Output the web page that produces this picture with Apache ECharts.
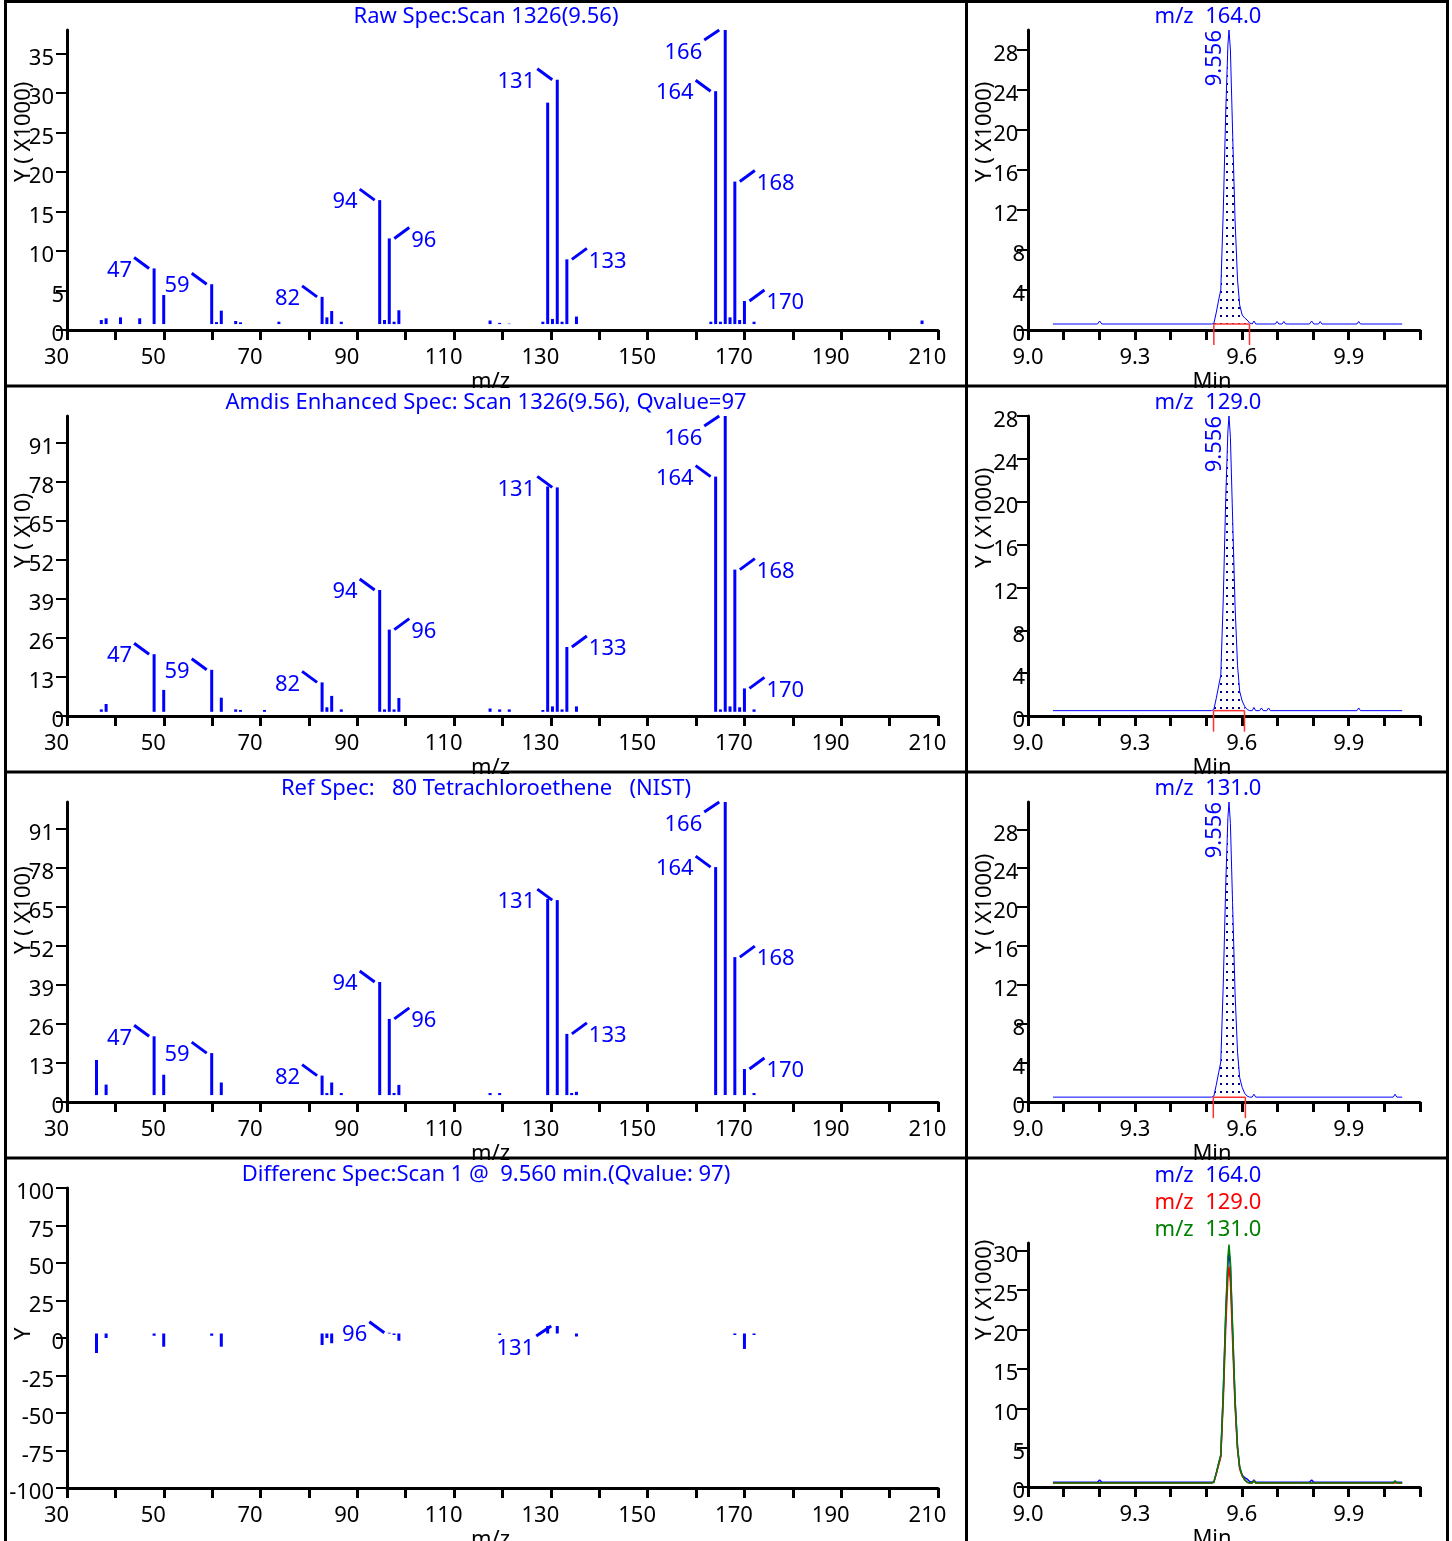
<!DOCTYPE html>
<html><head><meta charset="utf-8">
<script src="https://cdn.jsdelivr.net/npm/echarts@6/dist/echarts.min.js"></script>
<style>html,body{margin:0;padding:0;background:#fff}#c{width:1452px;height:1541px}</style>
</head><body><div id="c"></div><script>
// ---------------- DATA ----------------
const mzTickLabels = [30,50,70,90,110,130,150,170,190,210];
const rtTickLabels = [9.0,9.3,9.6,9.9];
const yTicks1 = [0,5,10,15,20,25,30,35];
const yTicks23 = [0,13,26,39,52,65,78,91];
const yTicks4 = [-100,-75,-50,-25,0,25,50,75,100];
const yTicksR = [0,4,8,12,16,20,24,28];
const yTicksR4 = [0,5,10,15,20,25,30];

const titles = ['Raw Spec:Scan 1326(9.56)',
  'Amdis Enhanced Spec: Scan 1326(9.56), Qvalue=97',
  'Ref Spec:   80 Tetrachloroethene   (NIST)',
  'Differenc Spec:Scan 1 @  9.560 min.(Qvalue: 97)'];
const yNamesL = ['Y ( X1000)','Y ( X10)','Y ( X100)','Y'];
const yNamesR = ['Y ( X1000)','Y ( X1000)','Y ( X1000)','Y ( X1000)'];
const eicNames = ['m/z  164.0','m/z  129.0','m/z  131.0'];
const peakRT = '9.556';

// Raw spectrum (x1000)
const mzRaw  = [36,37,40,44,47,49,59,60,61,64,65,73,82,83,84,86,94,95,96,97,98,117,119,121,128,129,130,131,132,133,135,163,164,165,166,167,168,169,170,172,207];
const valRaw = [1.27,1.48,1.6,1.48,7.8,4.43,5.8,1.0,2.45,1.14,0.97,1.05,4.2,1.6,2.4,1.05,16.45,1.27,11.6,1.05,2.5,1.2,0.9,0.8,1.05,28.8,1.4,31.7,1.05,8.95,1.7,1.05,30.25,1.05,38.0,1.6,18.8,1.27,3.67,1.05,1.2];
// AMDIS enhanced (x10)
const mzAmdis  = [36,37,47,49,59,61,64,65,70,82,83,84,86,94,95,96,97,98,117,119,121,128,129,130,131,132,133,135,164,165,166,167,168,169,170,172];
const valAmdis = [2.2,4.0,20.6,8.7,15.4,6.1,2.2,2.0,2.0,11.2,2.9,6.7,2.2,42.0,2.2,28.8,2.2,6.0,2.5,2.2,2.2,2.0,76.5,3.2,76.2,2.2,23.0,3.2,79.8,2.2,100,3.2,48.8,2.9,9.2,2.2];
// NIST reference (x100)
const mzNist  = [35,37,47,49,59,61,82,83,84,86,94,96,97,98,117,119,129,131,133,134,135,164,166,168,170,172];
const valNist = [14,5.8,21.9,9.1,16.3,6.5,8.8,3,6.5,3,40,27.7,3,5.7,3,3,67.7,67.3,22.7,3,3.4,78.3,100,48.3,11,3];
// Difference spectrum
const mzDiff  = [35,37,47,49,59,61,82,83,84,96,97,98,119,129,131,135,168,170,172];
const valDiff = [-10,0,1.5,-5.8,1.5,-5.8,-4.7,0,-3.5,3.5,2,-1.8,2,8,8,1,2,-7.3,2];

const labMain  = [47,59,82,94,96,131,133,164,166,168,170];
const sideMain = [0,0,0,0,1,0,1,0,2,1,1];   // 0 = left-up, 1 = right-up, 2 = left-down
const labDiff  = [96,131];
const sideDiff = [0,2];

// Extracted ion chromatograms (x1000)
const eic164 = [[9.07,0.6],[9.195,0.6],[9.201,0.9],[9.207,0.6],[9.515,0.6],[9.5215,0.65],[9.528,1.7],[9.535,3.0],[9.541,4.0],[9.548,12],[9.555,22],[9.561,28.5],[9.564,30],[9.568,28],[9.574,20],[9.581,11],[9.588,5],[9.594,2.5],[9.601,1.5],[9.608,1.2],[9.615,1.0],[9.622,0.7],[9.629,0.6],[9.634,0.9],[9.639,0.6],[9.694,0.6],[9.699,0.85],[9.704,0.6],[9.713,0.6],[9.718,0.85],[9.723,0.6],[9.79,0.6],[9.796,0.9],[9.802,0.6],[9.815,0.6],[9.82,0.85],[9.825,0.6],[9.923,0.6],[9.928,0.85],[9.933,0.6],[10.05,0.6]];
const eic129 = [[9.07,0.5],[9.515,0.5],[9.5215,0.6],[9.528,1.6],[9.535,2.8],[9.541,3.8],[9.548,11],[9.555,20.5],[9.561,26.6],[9.564,28],[9.568,26],[9.574,18.7],[9.581,10.3],[9.588,4.7],[9.594,2.3],[9.601,1.4],[9.608,0.9],[9.615,0.6],[9.622,0.5],[9.629,0.5],[9.634,0.8],[9.639,0.5],[9.65,0.5],[9.655,0.75],[9.66,0.5],[9.67,0.5],[9.675,0.75],[9.68,0.5],[9.923,0.5],[9.928,0.75],[9.933,0.5],[10.05,0.5]];
const eic131 = [[9.07,0.5],[9.515,0.5],[9.5215,0.6],[9.528,1.7],[9.535,3.0],[9.541,4.1],[9.548,12.2],[9.555,22.5],[9.561,29.2],[9.564,30.8],[9.568,28.6],[9.574,20.5],[9.581,11.2],[9.588,5.1],[9.594,2.5],[9.601,1.5],[9.608,0.9],[9.615,0.6],[9.622,0.5],[9.629,0.5],[9.634,0.8],[9.639,0.5],[10.025,0.5],[10.03,0.8],[10.035,0.5],[10.05,0.5]];
const intWindows = [[9.5215,9.6215],[9.5206,9.6075],[9.52,9.61]];
const eicBase = [0.6,0.5,0.5];

// ---------------- CHART ----------------
const FS = 22;
const FONT = '"Noto Sans","Open Sans",sans-serif';
const TFONT = FS + 'px ' + FONT;
const BLUE = '#0000ff', RED = '#ff0000', GREEN = '#008000';
const chart = echarts.init(document.getElementById('c'), null, {renderer:'canvas'});

const rowsL = [30,416,802,1188];
const rowsR = [30,416,802,1243];
const hR = [300,300,300,244];
const grids = [];
rowsL.forEach(t => grids.push({left:67, top:t, width:871, height:300, containLabel:false, outerBoundsMode:'none'}));
rowsR.forEach((t,i) => grids.push({left:1028, top:t, width:392, height:hR[i], containLabel:false, outerBoundsMode:'none'}));

function xLeft(gi){
  return {type:'value', gridIndex:gi, min:30, max:210, interval:10,
    axisLine:{show:true, onZero:false, lineStyle:{color:'#000', width:3}},
    axisTick:{show:true, length:10, lineStyle:{color:'#000', width:3}},
    axisLabel:{customValues:mzTickLabels, color:'#000', fontSize:FS, fontFamily:FONT, margin:17, padding:[0,21,0,0]},
    splitLine:{show:false},
    name:'m/z', nameLocation:'middle', nameGap:41,
    nameTextStyle:{color:'#000', fontSize:FS, fontFamily:FONT, padding:[0,24,0,0], verticalAlign:'top'}};
}
function xData(gi){ return {type:'value', gridIndex:gi, min:28.85, max:210.33, show:false}; }
function xRight(gi){
  return {type:'value', gridIndex:gi, min:9.0, max:10.1, interval:0.1,
    axisLine:{show:true, onZero:false, lineStyle:{color:'#000', width:3}},
    axisTick:{show:true, length:10, lineStyle:{color:'#000', width:3}},
    axisLabel:{customValues:rtTickLabels, color:'#000', fontSize:FS, fontFamily:FONT, margin:17,
      formatter: v => v.toFixed(1)},
    splitLine:{show:false},
    name:'Min', nameLocation:'middle', nameGap:41,
    nameTextStyle:{color:'#000', fontSize:FS, fontFamily:FONT, padding:[0,24,0,0], verticalAlign:'top'}};
}
function yAx(gi, min, max, ticks, spacer){
  return {type:'value', gridIndex:gi, min, max,
    axisLine:{show:true, onZero:false, lineStyle:{color:'#000', width:3}},
    axisTick:{show:true, customValues:ticks, length:11, lineStyle:{color:'#000', width:2}},
    axisLabel:{customValues:ticks, margin:3, padding:[10,0,0,0],
      formatter: v => String(v).length > 1 ? '{n|' + v + '}{s|}' : '{n|' + v + '}',
      rich:{n:{fontSize:FS, fontFamily:FONT, color:'#000'}, s:{width:spacer}}},
    splitLine:{show:false}};
}

const xAxes = [0,1,2,3].map(xLeft).concat([0,1,2,3].map(xData)).concat([4,5,6,7].map(xRight));
const yAxes = [yAx(0,0,38,yTicks1,10), yAx(1,0,100,yTicks23,10), yAx(2,0,100,yTicks23,10), yAx(3,-100,100,yTicks4,10),
  yAx(4,0,30,yTicksR,6.7), yAx(5,0,28,yTicksR,6.7), yAx(6,0,30.8,yTicksR,6.7), yAx(7,0,31,yTicksR4,6.7)];

const floors = [0.75, 1.4, 2.3, 3];
function barSeries(k, mz, vals){
  return {type:'custom', xAxisIndex:4+k, yAxisIndex:k, clip:false,
    data: mz.map((m,i)=>[m, vals[i]]),
    renderItem:(p, api) => {
      const a = api.coord([api.value(0), floors[k]]);
      const b = api.coord([api.value(0), api.value(1)]);
      return {type:'line', shape:{x1:a[0], y1:a[1], x2:b[0], y2:b[1]}, style:{stroke:BLUE, lineWidth:3}};
    }};
}
function labelSeries(k, labs, sides, mz, vals){
  return {type:'custom', xAxisIndex:4+k, yAxisIndex:k, clip:false,
    data: labs.map((m,i)=>[m, vals[mz.indexOf(m)], sides[i]]),
    renderItem:(p, api) => {
      const m = api.value(0), s = api.value(2);
      const c = api.coord([m, api.value(1)]);
      const bx = c[0], by = c[1];
      let ln, tx;
      if (s === 0){ ln = {x1:bx-5, y1:by, x2:bx-20, y2:by-11}; tx = {x:bx-22, y:by+2, align:'right'}; }
      else if (s === 1){ ln = {x1:bx+5, y1:by, x2:bx+20, y2:by-11}; tx = {x:bx+22, y:by+2, align:'left'}; }
      else { ln = {x1:bx-6, y1:by, x2:bx-21, y2:by+10}; tx = {x:bx-23, y:by+23, align:'right'}; }
      return {type:'group', children:[
        {type:'line', shape:ln, style:{stroke:BLUE, lineWidth:3}},
        {type:'text', x:tx.x, y:tx.y, style:{text:String(m), align:tx.align, verticalAlign:'middle', fill:BLUE, font:TFONT}}
      ]};
    }};
}

const pat = document.createElement('canvas'); pat.width = 6; pat.height = 8;
const pc = pat.getContext('2d'); pc.fillStyle = '#000080'; pc.fillRect(2,3,2,2);

const eics = [eic164, eic129, eic131];
const series = [
  barSeries(0, mzRaw, valRaw), labelSeries(0, labMain, sideMain, mzRaw, valRaw),
  barSeries(1, mzAmdis, valAmdis), labelSeries(1, labMain, sideMain, mzAmdis, valAmdis),
  barSeries(2, mzNist, valNist), labelSeries(2, labMain, sideMain, mzNist, valNist),
  barSeries(3, mzDiff, valDiff), labelSeries(3, labDiff, sideDiff, mzDiff, valDiff)
];
eics.forEach((d, k) => {
  const w = intWindows[k];
  series.push({type:'line', xAxisIndex:8+k, yAxisIndex:4+k, data: d.filter(p => p[0] >= w[0] && p[0] <= w[1] + 0.001),
    symbol:'none', lineStyle:{width:0}, areaStyle:{color:{image:pat, repeat:'repeat'}, origin:eicBase[k], opacity:1}, z:1});
  series.push({type:'line', xAxisIndex:8+k, yAxisIndex:4+k, data:d, symbol:'none', lineStyle:{color:BLUE, width:1}, z:2});
  series.push({type:'custom', xAxisIndex:8+k, yAxisIndex:4+k, clip:false, data:[[w[0], w[1], eicBase[k]]], z:3,
    renderItem:(p, api) => {
      const a = api.coord([api.value(0), api.value(2)]), b = api.coord([api.value(1), api.value(2)]);
      const st = {stroke:'#ff3030', lineWidth:1.5};
      return {type:'group', children:[
        {type:'line', shape:{x1:a[0], y1:a[1], x2:b[0], y2:b[1]}, style:st},
        {type:'line', shape:{x1:a[0], y1:a[1], x2:a[0], y2:a[1]+21}, style:st},
        {type:'line', shape:{x1:b[0], y1:b[1], x2:b[0], y2:b[1]+21}, style:st}]};
    }});
  const apex = d.reduce((m, p) => p[1] > m[1] ? p : m, d[0]);
  series.push({type:'custom', xAxisIndex:8+k, yAxisIndex:4+k, clip:false, data:[apex], z:4,
    renderItem:(p, api) => {
      const c = api.coord([api.value(0), api.value(1)]);
      return {type:'text', x:c[0]-14, y:c[1], rotation:Math.PI/2,
        style:{text:peakRT, align:'right', verticalAlign:'middle', fill:BLUE, font:TFONT}};
    }});
});
[[eic164, BLUE],[eic129, RED],[eic131, GREEN]].forEach(([d, col]) => {
  series.push({type:'line', xAxisIndex:11, yAxisIndex:7, data:d, symbol:'none', lineStyle:{color:col, width:1.5}});
});

// texts and borders
const g = [];
titles.forEach((t, i) => g.push({type:'text', x:486, y:17 + 386*i, style:{text:t, align:'center', verticalAlign:'middle', fill:BLUE, font:TFONT}}));
eicNames.forEach((t, i) => g.push({type:'text', x:1208, y:17 + 386*i, style:{text:t, align:'center', verticalAlign:'middle', fill:BLUE, font:TFONT}}));
[[eicNames[0], BLUE],[eicNames[1], RED],[eicNames[2], GREEN]].forEach(([t, c], i) =>
  g.push({type:'text', x:1208, y:1176 + 27*i, style:{text:t, align:'center', verticalAlign:'middle', fill:c, font:TFONT}}));
yNamesL.forEach((t, i) => g.push({type:'text', x:24, y:182 + 386*i, rotation:Math.PI/2, style:{text:t, align:'left', verticalAlign:'middle', fill:'#000', font:TFONT}}));
yNamesR.forEach((t, i) => g.push({type:'text', x:985, y:182 + 386*i, rotation:Math.PI/2, style:{text:t, align:'left', verticalAlign:'middle', fill:'#000', font:TFONT}}));
const bs = {stroke:'#000', lineWidth:3};
[1.5, 386, 772, 1158].forEach(y => g.push({type:'line', z:100, shape:{x1:5, y1:y, x2:1449, y2:y}, style:bs}));
[5.5, 966.5, 1447.5].forEach(x => g.push({type:'line', z:100, shape:{x1:x, y1:0, x2:x, y2:1541}, style:bs}));

chart.setOption({animation:false, backgroundColor:'#fff', grid:grids, xAxis:xAxes, yAxis:yAxes, series, graphic:g});
</script></body></html>
